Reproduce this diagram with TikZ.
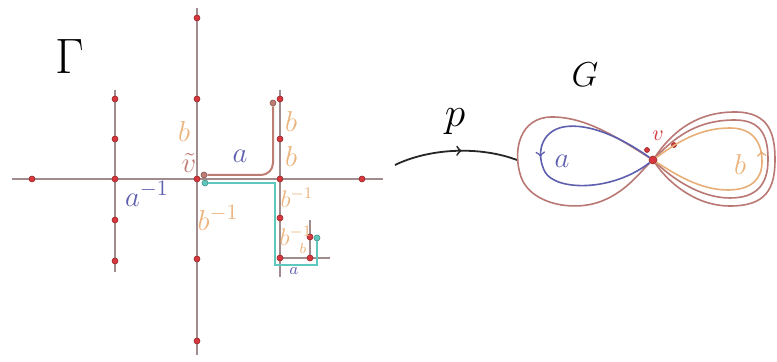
\documentclass[tikz,border=0pt]{standalone}
\usetikzlibrary{decorations.markings}
\definecolor{treeline}{RGB}{160,140,140}
\definecolor{dotred}{RGB}{215,55,60}
\definecolor{labblue}{RGB}{95,95,175}
\definecolor{laborange}{RGB}{235,180,125}
\definecolor{pathbrown}{RGB}{190,125,115}
\definecolor{pathteal}{RGB}{95,200,190}
\definecolor{loopbrown}{RGB}{185,120,115}
\tikzset{
  edge/.style={treeline, line width=0.8pt},
  vtx/.style={circle, fill=dotred, draw=dotred!70!black, line width=0.3pt, inner sep=0pt, minimum size=3pt},
  alab/.style={labblue, font=\fontsize{15}{17}\selectfont},
  blab/.style={laborange, font=\fontsize{15}{17}\selectfont},
  midarrow/.style={postaction={decorate}, decoration={markings, mark=at position #1 with {\arrow{>}}}},
  midarrowback/.style={postaction={decorate}, decoration={markings, mark=at position #1 with {\arrow{<}}}}
}
\begin{document}
\begin{tikzpicture}[x=0.5pt, y=-0.5pt]
  \useasboundingbox (0,0) rectangle (777,362);

  % the tree Gamma
  \node[font=\fontsize{34}{36}\selectfont] (gam) at (70,57) {$\Gamma$};

  \coordinate (hl) at (12,179);  \coordinate (hr) at (383,179);
  \coordinate (vt) at (197,8);   \coordinate (vb) at (197,355);
  \coordinate (lt) at (115,90);  \coordinate (lb) at (115,272);
  \coordinate (rt) at (280,90);  \coordinate (rb) at (280,277);
  \coordinate (st) at (310,220); \coordinate (sr) at (330,258);

  \draw[edge] (hl) -- (hr);
  \draw[edge] (vt) -- (vb);
  \draw[edge] (lt) -- (lb);
  \draw[edge] (rt) -- (rb);
  \draw[edge] (st) -- (310,258);
  \draw[edge] (280,258) -- (sr);

  % paths in the tree
  \node[vtx, fill=pathbrown, draw=pathbrown!70!black] (pb0) at (204,175) {};
  \node[vtx, fill=pathbrown, draw=pathbrown!70!black] (pb1) at (273,103) {};
  \draw[pathbrown, line width=1pt, rounded corners=6pt] (pb0) -- (273,175) -- (pb1);
  \node[vtx, fill=pathteal, draw=pathteal!70!black] (pt0) at (205,183) {};
  \node[vtx, fill=pathteal, draw=pathteal!70!black] (pt1) at (317,238) {};
  \draw[pathteal, line width=1pt] (pt0) -- (275,183) -- (275,265) -- (317,265) -- (pt1);

  \foreach \x/\n in {32/l2, 115/l1, 197/v0, 280/r1, 362/r2}
    \node[vtx] (\n) at (\x,179) {};
  \foreach \y/\n in {18/u2, 99/u1, 259/d1, 341/d2}
    \node[vtx] (\n) at (197,\y) {};
  \foreach \y/\n in {99/lu2, 139/lu1, 220/ld1, 261/ld2}
    \node[vtx] (\n) at (115,\y) {};
  \foreach \y/\n in {99/ru2, 139/ru1, 218/rd1, 258/rd2}
    \node[vtx] (\n) at (280,\y) {};
  \node[vtx] (sv) at (310,258) {};
  \node[vtx] (su) at (310,237) {};

  \node[blab] (lb1) at (184,132) {$b$};
  \node[pathbrown, font=\fontsize{15}{17}\selectfont] (vtil) at (189,163) {$\tilde v$};
  \node[alab] (la1) at (240,156) {$a$};
  \node[alab] (la2) at (147,194) {$a^{-1}$};
  \node[blab] (lb2) at (218,218) {$b^{-1}$};
  \node[blab] (lb3) at (291,122) {$b$};
  \node[blab] (lb4) at (291,157) {$b$};
  \node[blab, font=\fontsize{12}{14}\selectfont] (lb5) at (297,198) {$b^{-1}$};
  \node[blab, font=\fontsize{12}{14}\selectfont] (lb6) at (296,236) {$b^{-1}$};
  \node[blab, font=\fontsize{7}{8}\selectfont] (lb7) at (303,249) {$b$};
  \node[alab, font=\fontsize{8}{9}\selectfont] (la3) at (294,271) {$a$};

  % the covering map p
  \coordinate (pa) at (395,165);
  \coordinate (pe) at (517,160);
  \draw[black!85, line width=0.9pt, midarrow=0.55] (pa) .. controls (430,148) and (480,146) .. (pe);
  \node[font=\fontsize{22}{24}\selectfont] (p) at (455,122) {$p$};

  % the rose G
  \node[font=\fontsize{16}{18}\selectfont] (G) at (585,75) {$G$};
  \node[vtx, minimum size=4pt] (v) at (653,160) {};
  \node[dotred, font=\fontsize{11}{12}\selectfont] (vl) at (658,136) {$v$};
  \node[vtx, minimum size=2.5pt] (w1) at (647,150) {};
  \node[vtx, minimum size=2.5pt] (w2) at (674,145) {};

  \draw[loopbrown, line width=0.8pt] (v) .. controls (615,136) and (585,117) .. (552,117)
    .. controls (520,117) and (512,150) .. (521,177)
    .. controls (531,205) and (575,212) .. (602,201)
    .. controls (627,191) and (640,172) .. (v);
  \draw[labblue, line width=0.8pt, midarrow=0.51] (v) .. controls (625,140) and (590,122) .. (563,127)
    .. controls (540,132) and (536,155) .. (545,172)
    .. controls (556,191) and (612,192) .. (v);
  \node[alab] (ga) at (562,161) {$a$};

  \draw[loopbrown, line width=0.8pt] (v) .. controls (675,128) and (700,112) .. (735,112)
    .. controls (770,112) and (775,135) .. (775,160)
    .. controls (775,190) and (765,206) .. (730,206)
    .. controls (695,206) and (668,182) .. (v);
  \draw[loopbrown, line width=0.8pt] (v) .. controls (678,134) and (700,120) .. (735,120)
    .. controls (764,120) and (768,140) .. (768,160)
    .. controls (768,185) and (756,198) .. (730,198)
    .. controls (700,198) and (672,178) .. (v);
  \draw[laborange!90!brown, line width=0.8pt, midarrowback=0.49] (v) .. controls (680,140) and (702,128) .. (730,128)
    .. controls (755,128) and (762,145) .. (762,162)
    .. controls (762,180) and (750,190) .. (728,190)
    .. controls (700,190) and (675,174) .. (v);
  \node[blab] (gb) at (740,165) {$b$};
\end{tikzpicture}
\end{document}
